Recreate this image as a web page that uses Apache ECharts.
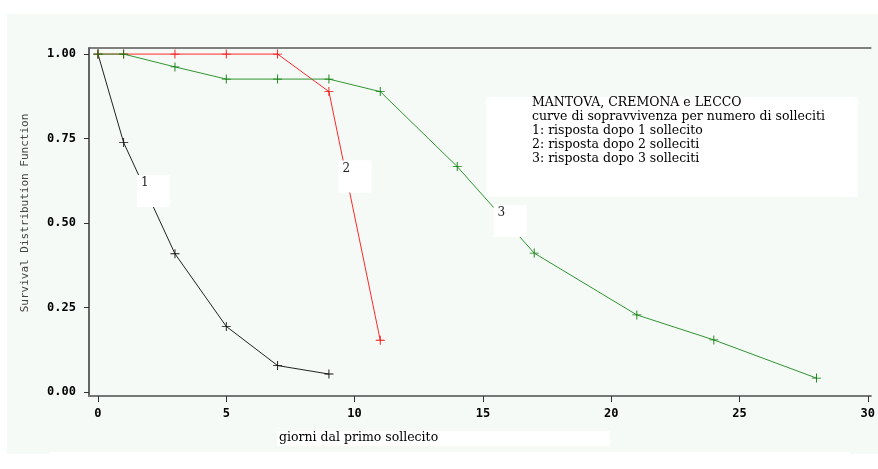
<!DOCTYPE html>
<html>
<head>
<meta charset="utf-8">
<script src="https://cdn.jsdelivr.net/npm/echarts@6/dist/echarts.min.js"></script>
<style>
html, body { margin: 0; padding: 0; background: #fff; }
#main { width: 878px; height: 469px; }
</style>
</head>
<body>
<div id="main"></div>
<script>
// giorni e sopravvivenza per numero di solleciti
var days1 = [0, 1, 3, 5, 7, 9];
var surv1 = [1.00, 0.738, 0.409, 0.194, 0.078, 0.053];
var days2 = [0, 1, 3, 5, 7, 9, 11];
var surv2 = [1.00, 1.00, 1.00, 1.00, 1.00, 0.889, 0.153];
var days3 = [0, 1, 3, 5, 7, 9, 11, 14, 17, 21, 24, 28];
var surv3 = [1.00, 1.00, 0.962, 0.926, 0.926, 0.926, 0.889, 0.667, 0.411, 0.228, 0.154, 0.041];
// tick
var xTicks = [0, 5, 10, 15, 20, 25, 30];
var yTicks = [0, 0.25, 0.5, 0.75, 1];
// testi
var curveNames = ['1', '2', '3'];
var legendLines = [
    'MANTOVA, CREMONA e LECCO',
    'curve di sopravvivenza per numero di solleciti',
    '1: risposta dopo 1 sollecito',
    '2: risposta dopo 2 solleciti',
    '3: risposta dopo 3 solleciti'
];
var xTitle = 'giorni dal primo sollecito';
var yTitle = 'Survival Distribution Function';

function pairs(xs, ys) {
    var out = [];
    for (var i = 0; i < xs.length; i++) {
        out.push([xs[i], ys[i]]);
    }
    return out;
}

var plus = 'path://M0,4.5H10V5.5H0Z M4.5,0H5.5V10H4.5Z';
var tickFont = {
    fontFamily: 'DejaVu Sans Mono',
    fontWeight: 'bold',
    fontSize: 12,
    color: '#000'
};

function boxLabel(name, x, y) {
    return {
        coord: [x, y],
        symbol: 'rect',
        symbolSize: [33, 32],
        itemStyle: { color: '#fff' },
        label: {
            show: true,
            formatter: name,
            position: [4, 2],
            fontFamily: 'DejaVu Serif',
            fontSize: 12,
            color: '#222'
        }
    };
}

var chart = echarts.init(document.getElementById('main'));

var option = {
    animation: false,
    backgroundColor: '#fff',
    grid: { left: 89, top: 48, right: 0, bottom: 73 },
    graphic: [
        {
            type: 'rect', z: -10, silent: true,
            shape: { x: 7, y: 14, width: 871, height: 440 },
            style: { fill: '#f5faf6' }
        },
        {
            type: 'rect', z: -9, silent: true,
            shape: { x: 50, y: 452, width: 800, height: 17 },
            style: { fill: '#fff' }
        },
        {
            type: 'rect', z: 20, silent: true,
            shape: { x: 486, y: 97, width: 372, height: 100 },
            style: { fill: '#fff' }
        },
        {
            type: 'text', z: 21, left: 532, top: 96,
            style: {
                text: legendLines.join('\n'),
                fontFamily: 'DejaVu Serif',
                fontSize: 12.5,
                lineHeight: 14,
                fill: '#000'
            }
        },
        {
            type: 'rect', z: 20, silent: true,
            shape: { x: 277, y: 431, width: 333, height: 15 },
            style: { fill: '#fff' }
        },
        {
            type: 'text', z: 21, left: 279, top: 431,
            style: {
                text: xTitle,
                fontFamily: 'DejaVu Serif',
                fontSize: 12.5,
                fill: '#000'
            }
        }
    ],
    xAxis: [{
        type: 'value',
        min: -0.35,
        max: 30.12,
        axisLine: { show: true, onZero: false, lineStyle: { color: '#777', width: 2 } },
        axisTick: {
            show: true, length: 6,
            customValues: xTicks,
            lineStyle: { color: '#333', width: 1 }
        },
        axisLabel: Object.assign({ customValues: xTicks, margin: 12 }, tickFont),
        splitLine: { show: false }
    }, {
        type: 'value',
        position: 'top',
        min: -0.35,
        max: 30.12,
        axisLine: { show: true, onZero: false, lineStyle: { color: '#555', width: 1.5 } },
        axisTick: { show: false },
        axisLabel: { show: false },
        splitLine: { show: false }
    }],
    yAxis: {
        type: 'value',
        min: -0.012,
        max: 1.018,
        name: yTitle,
        nameLocation: 'middle',
        nameRotate: 90,
        nameGap: 58,
        nameTextStyle: {
            fontFamily: 'DejaVu Sans Mono',
            fontSize: 11,
            color: '#444',
            padding: [0, 0, 0, 18]
        },
        axisLine: { show: true, onZero: false, lineStyle: { color: '#333', width: 1.5 } },
        axisTick: {
            show: true, length: 5,
            customValues: yTicks,
            lineStyle: { color: '#333', width: 1 }
        },
        axisLabel: Object.assign({
            customValues: yTicks,
            margin: 13,
            formatter: function (v) { return v.toFixed(2); }
        }, tickFont),
        splitLine: { show: false }
    },
    series: [
        {
            name: curveNames[0],
            type: 'line',
            data: pairs(days1, surv1),
            symbol: plus,
            symbolSize: 9,
            itemStyle: { color: '#111' },
            lineStyle: { color: '#222', width: 1 },
            z: 3,
            markPoint: {
                z: 10,
                data: [boxLabel(curveNames[0], 2.16, 0.595)]
            }
        },
        {
            name: curveNames[1],
            type: 'line',
            data: pairs(days2, surv2),
            symbol: plus,
            symbolSize: 9,
            itemStyle: { color: '#f01010' },
            lineStyle: { color: '#ff2a2a', width: 1 },
            z: 4,
            markPoint: {
                z: 10,
                data: [boxLabel(curveNames[1], 10.02, 0.638)]
            }
        },
        {
            name: curveNames[2],
            type: 'line',
            data: pairs(days3, surv3),
            symbol: plus,
            symbolSize: 9,
            itemStyle: { color: '#0b7d0b' },
            lineStyle: { color: '#2f962f', width: 1 },
            z: 5,
            markPoint: {
                z: 10,
                data: [boxLabel(curveNames[2], 16.06, 0.506)]
            }
        }
    ]
};

chart.setOption(option);
</script>
</body>
</html>
